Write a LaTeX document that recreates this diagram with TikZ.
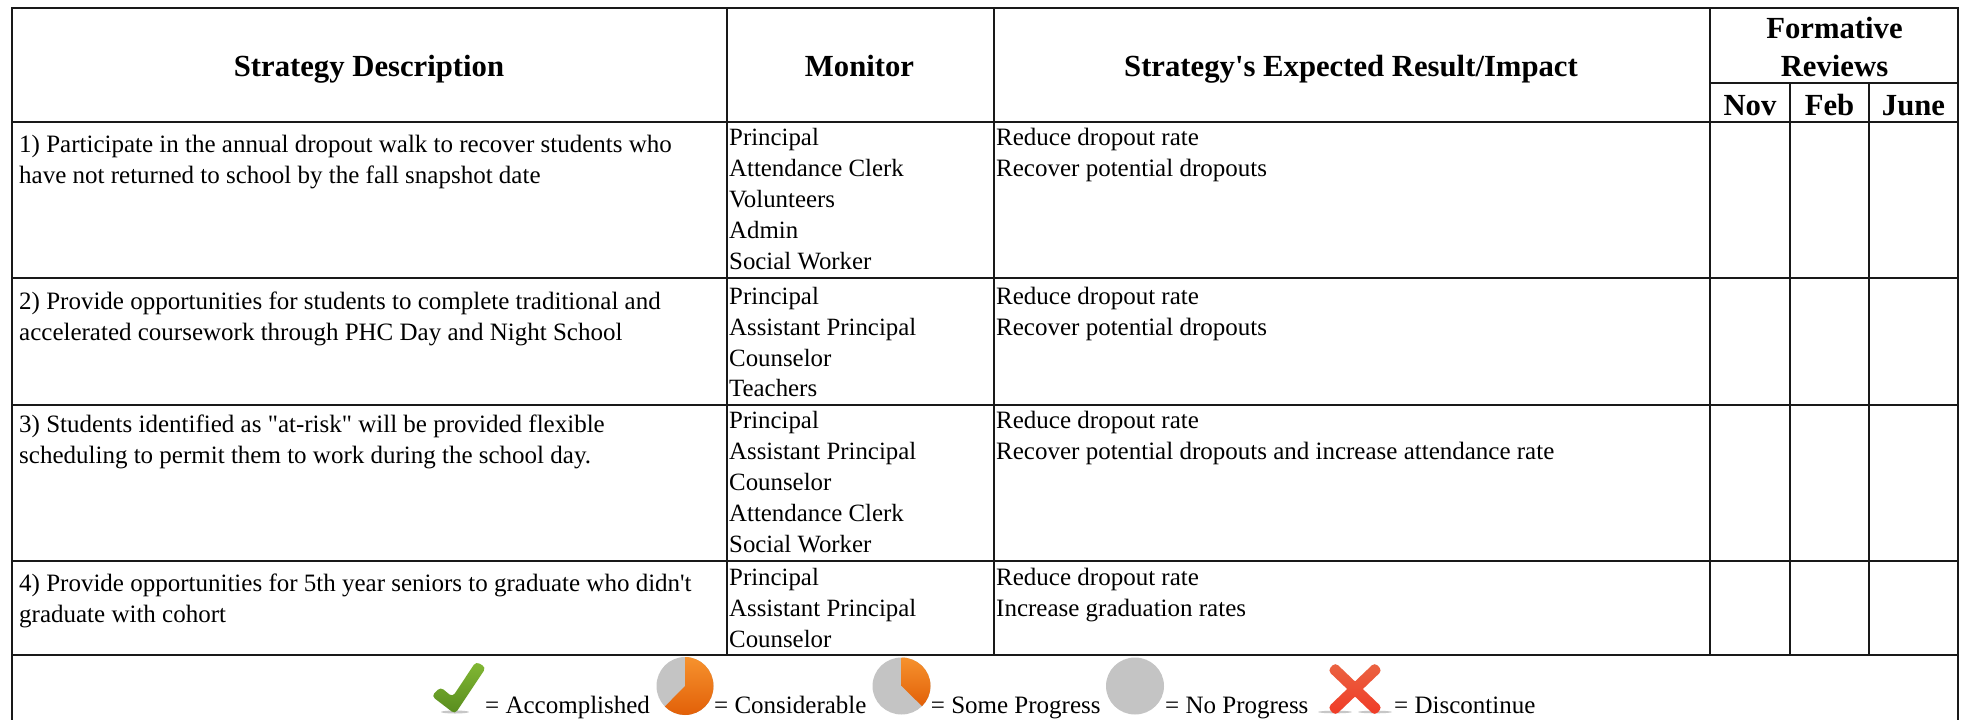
\documentclass[tikz,border=0pt]{standalone}
\usepackage{fontspec}
\newfontfamily\rawserif{Liberation Serif}
\definecolor{pietop}{RGB}{246,146,46}
\definecolor{piebot}{RGB}{226,96,8}
\definecolor{piegr}{RGB}{196,196,196}
\definecolor{grtop}{RGB}{130,184,52}
\definecolor{grbot}{RGB}{88,140,30}
\definecolor{xtop}{RGB}{234,100,66}
\definecolor{xbot}{RGB}{240,58,38}
\tikzset{
  x=1pt,y=-1pt,
  rule/.style={line width=2pt,draw=black!90},
  celltext/.style={anchor=base west,inner sep=0pt,font=\rawserif\fontsize{25}{31}\selectfont},
  montext/.style={anchor=base west,inner sep=0pt,font=\rawserif\fontsize{24.85}{31}\selectfont},
  headtext/.style={anchor=base,inner sep=0pt,font=\rawserif\fontsize{30.7}{36}\selectfont\bfseries},
  orange wedge/.style={top color=pietop,bottom color=piebot,shading angle=0},
  shadow mark/.style={fill=black!22},
}
\begin{document}
\begin{tikzpicture}
\useasboundingbox (0,0) rectangle (1963,720);
\fill[white] (0,0) rectangle (1963,720);
% frame and rows
\draw[rule] (11.7,720) -- (11.7,8) -- (1958,8) -- (1958,720);
\foreach \y in {122.3,278,404.5,561,655} \draw[rule] (11.7,\y) -- (1958,\y);
\draw[rule] (726.7,8) -- (726.7,655);
\draw[rule] (994,8) -- (994,655);
\draw[rule] (1710.3,8) -- (1710.3,655);
\draw[rule] (1789.7,83) -- (1789.7,655);
\draw[rule] (1869,83) -- (1869,655);
\draw[rule] (1710.3,83) -- (1958,83);
% header
\node[headtext] (h1) at (369,76) {Strategy Description};
\node[headtext] (h2) at (859.5,76) {Monitor};
\node[headtext] (h3) at (1351,76) {Strategy's Expected Result/Impact};
\node[headtext] (h4) at (1834.5,38) {Formative};
\node[headtext] (h5) at (1834.5,76) {Reviews};
\node[headtext] (h6) at (1750,115) {Nov};
\node[headtext] (h7) at (1829.5,115) {Feb};
\node[headtext] (h8) at (1913.5,115) {June};
% row 1
\node[celltext] (a1) at (19,152) {1) Participate in the annual dropout walk to recover students who};
\node[celltext] (a2) at (19,183) {have not returned to school by the fall snapshot date};
\node[montext] (b1) at (729,145.5) {Principal};
\node[montext] (b2) at (729,176.5) {Attendance Clerk};
\node[montext] (b3) at (729,207.5) {Volunteers};
\node[montext] (b4) at (729,238.5) {Admin};
\node[montext] (b5) at (729,269.5) {Social Worker};
\node[celltext] (c1) at (996,145.5) {Reduce dropout rate};
\node[celltext] (c2) at (996,176.5) {Recover potential dropouts};
% row 2
\node[celltext] (d1) at (19,309.5) {2) Provide opportunities for students to complete traditional and};
\node[celltext] (d2) at (19,340.5) {accelerated coursework through PHC Day and Night School};
\node[montext] (e1) at (729,304) {Principal};
\node[montext] (e2) at (729,335) {Assistant Principal};
\node[montext] (e3) at (729,366) {Counselor};
\node[montext] (e4) at (729,396.5) {Teachers};
\node[celltext] (f1) at (996,304) {Reduce dropout rate};
\node[celltext] (f2) at (996,335) {Recover potential dropouts};
% row 3
\node[celltext] (g1) at (19,432.5) {3) Students identified as "at-risk" will be provided flexible};
\node[celltext] (g2) at (19,463.5) {scheduling to permit them to work during the school day.};
\node[montext] (i1) at (729,428) {Principal};
\node[montext] (i2) at (729,459) {Assistant Principal};
\node[montext] (i3) at (729,490) {Counselor};
\node[montext] (i4) at (729,521) {Attendance Clerk};
\node[montext] (i5) at (729,552) {Social Worker};
\node[celltext] (j1) at (996,428) {Reduce dropout rate};
\node[celltext] (j2) at (996,459) {Recover potential dropouts and increase attendance rate};
% row 4
\node[celltext] (k1) at (19,591) {4) Provide opportunities for 5th year seniors to graduate who didn't};
\node[celltext] (k2) at (19,622) {graduate with cohort};
\node[montext] (l1) at (729,585) {Principal};
\node[montext] (l2) at (729,616) {Assistant Principal};
\node[montext] (l3) at (729,647) {Counselor};
\node[celltext] (m1) at (996,585) {Reduce dropout rate};
\node[celltext] (m2) at (996,616) {Increase graduation rates};
% check mark
\fill[shadow mark] (455,712) ellipse[x radius=14,y radius=1.5];
\shade[top color=grtop,bottom color=grbot,rounded corners=4pt]
  (431.5,696) -- (440.5,687) -- (452.5,697) -- (476,661.5) -- (486,667.5) -- (455,714) -- cycle;
% considerable
\fill[piegr] (685,686) ellipse[x radius=28.5,y radius=29];
\shade[orange wedge] (685,686) -- (685,657) arc[start angle=-90,end angle=135,x radius=28.5,y radius=29] -- cycle;
% some progress
\fill[piegr] (901.5,686) ellipse[x radius=29,y radius=28.5];
\shade[orange wedge] (901.5,686) -- (901.5,657.5) arc[start angle=-90,end angle=45,x radius=29,y radius=28.5] -- cycle;
% no progress
\fill[piegr] (1135,686) ellipse[x radius=29,y radius=28.5];
% cross
\fill[shadow mark] (1335,712) ellipse[x radius=17,y radius=1.3];
\fill[shadow mark] (1375,712) ellipse[x radius=17,y radius=1.3];
\shade[top color=xtop,bottom color=xbot,rounded corners=4pt]
  (1327.8,670.5) -- (1335.2,662.5) -- (1382.2,707.5) -- (1374.8,715.5) -- cycle;
\shade[top color=xtop,bottom color=xbot,rounded corners=4pt]
  (1382.2,670.5) -- (1374.8,662.5) -- (1327.8,707.5) -- (1335.2,715.5) -- cycle;
% legend text
\node[celltext] (n1) at (485,713) {= Accomplished};
\node[celltext] (n2) at (714,713) {= Considerable};
\node[celltext] (n3) at (930.7,713) {= Some Progress};
\node[celltext] (n4) at (1165,713) {= No Progress};
\node[celltext] (n5) at (1394,713) {= Discontinue};
\end{tikzpicture}
\end{document}
